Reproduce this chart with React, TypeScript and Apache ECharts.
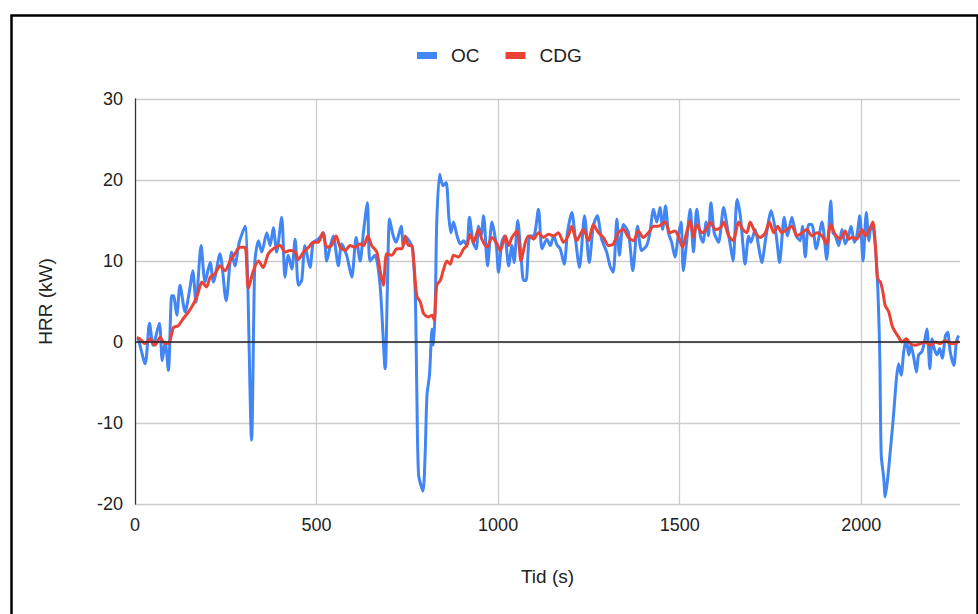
import React, { useEffect, useRef } from "react";
import * as echarts from "echarts";

const seriesNames = ["OC", "CDG"];
const xTicks = [0, 500, 1000, 1500, 2000];
const yTicks = [-20, -10, 0, 10, 20, 30];

const ocTime = [5, 9, 28, 40, 50, 67, 75, 83, 92, 101, 106, 115, 124, 138, 151, 159, 168, 182, 193, 207, 216, 234, 251, 266, 275, 287, 303, 321, 330, 340, 349, 363, 372, 381, 390, 404, 413, 422, 432, 441, 450, 459, 468, 482, 491, 505, 519, 528, 537, 546, 560, 569, 583, 597, 609, 620, 629, 640, 647, 661, 675, 689, 695, 701, 710, 719, 733, 739, 748, 762, 765, 772, 776, 781, 793, 799, 804, 811, 818, 822, 827, 831, 839, 848, 857, 864, 870, 877, 887, 896, 905, 914, 921, 931, 940, 946, 953, 960, 971, 983, 995, 1001, 1010, 1018, 1029, 1038, 1044, 1054, 1063, 1070, 1077, 1087, 1098, 1111, 1121, 1134, 1144, 1153, 1162, 1171, 1182, 1191, 1203, 1212, 1224, 1238, 1251, 1262, 1273, 1285, 1299, 1308, 1317, 1327, 1334, 1345, 1359, 1371, 1384, 1395, 1409, 1418, 1428, 1437, 1446, 1453, 1461, 1469, 1478, 1487, 1496, 1504, 1510, 1519, 1529, 1538, 1547, 1557, 1564, 1573, 1579, 1586, 1595, 1607, 1621, 1632, 1639, 1647, 1658, 1667, 1674, 1680, 1690, 1696, 1708, 1717, 1726, 1738, 1752, 1766, 1775, 1788, 1797, 1809, 1821, 1832, 1838, 1846, 1855, 1864, 1876, 1892, 1905, 1916, 1922, 1929, 1938, 1947, 1956, 1965, 1972, 1981, 1988, 1996, 2005, 2014, 2021, 2027, 2034, 2044, 2051, 2055, 2062, 2066, 2073, 2080, 2089, 2097, 2103, 2110, 2117, 2124, 2131, 2137, 2145, 2152, 2158, 2167, 2174, 2181, 2189, 2195, 2201, 2209, 2216, 2223, 2232, 2238, 2245, 2255, 2262, 2268];
const ocHrr = [0.5, 0.4, -2.7, 2.3, -0.4, 2.3, -2.3, 0, -3.5, 5.7, 5.7, 3.3, 7, 3.7, 6.6, 8.8, 4.9, 11.9, 7.4, 9.8, 7.4, 10.9, 5.1, 11.1, 9.4, 12.3, 14.3, -12.1, 9.8, 12.5, 11.1, 13.5, 11.9, 14.1, 11.1, 15.4, 8, 10.7, 9, 12.7, 7, 7.6, 11.9, 9.2, 12.3, 12.7, 13.5, 10, 11.7, 13.1, 9.4, 12.1, 10.7, 8, 12.9, 10, 13.5, 17.2, 10, 10.7, 7, -3.3, 6.6, 15.2, 13.3, 12.3, 14.3, 11.9, 12.9, 11.9, 11.5, 5.7, -5.7, -16.4, -18.4, -13.9, -6.6, -4.1, 1.6, -0.4, 4.9, 14.8, 20.7, 19.3, 19.7, 15.6, 13.5, 14.8, 13.1, 12.1, 12.5, 11.9, 15.4, 12.3, 11.5, 14.3, 13.1, 15.6, 9.4, 14.8, 11.9, 8.6, 12.3, 13.1, 9.4, 11.9, 9.8, 15, 10.7, 7.6, 7.6, 13.1, 13.1, 16.4, 11.5, 12.7, 11.9, 13.1, 12, 11.5, 9.6, 13.5, 16, 13.1, 9.2, 15.6, 9.8, 14.3, 15.6, 12.7, 11.1, 9.4, 8.6, 15.2, 10.7, 14.5, 13.5, 8.8, 14.3, 11.3, 11.9, 13.5, 16.4, 14.8, 16.6, 13.9, 16.8, 13.5, 12.3, 10.5, 13.1, 14.8, 8.8, 12.3, 16.4, 11.1, 16.4, 13.1, 12.3, 14.8, 13.1, 17.2, 13.5, 12.3, 16.6, 13.9, 12.1, 10, 17.6, 15.6, 12.1, 9.6, 13.1, 12.3, 13.9, 11.9, 9.8, 13.1, 16.2, 13.1, 9.8, 15.4, 13.1, 15.4, 13.1, 12.5, 14.3, 10.5, 14.5, 14.5, 11.5, 14.8, 10.2, 17.4, 13.5, 13.1, 11.9, 13.9, 12.1, 13.1, 14.3, 12.3, 13.1, 15.6, 10, 16, 12.5, 14.1, 13.9, 8.2, -1.6, -13.9, -16.8, -19.1, -16.8, -13.5, -9, -4.5, -2.7, -4.1, -1.2, 0.4, -1.6, -0.4, -2, -3.7, -1.6, -1.2, 0, 1.6, -3.3, 0.4, -0.8, -1.6, -0.8, -2, 0.8, 1.2, -1.2, -2.9, 0, 0.8];

const cdgTime = [5, 9, 28, 41, 55, 69, 78, 92, 106, 119, 133, 147, 161, 174, 184, 197, 207, 220, 234, 248, 262, 275, 289, 303, 312, 326, 340, 353, 367, 381, 400, 413, 427, 441, 450, 464, 478, 491, 505, 517, 528, 541, 554, 565, 579, 592, 606, 620, 630, 641, 652, 666, 675, 684, 693, 707, 721, 735, 744, 753, 762, 767, 776, 786, 795, 808, 818, 824, 831, 841, 850, 859, 868, 877, 891, 905, 914, 923, 932, 946, 955, 969, 983, 997, 1006, 1020, 1029, 1038, 1052, 1063, 1075, 1084, 1098, 1111, 1125, 1139, 1153, 1166, 1180, 1193, 1203, 1216, 1235, 1249, 1262, 1276, 1290, 1304, 1317, 1331, 1345, 1359, 1373, 1386, 1400, 1414, 1428, 1441, 1460, 1473, 1487, 1496, 1508, 1519, 1529, 1538, 1547, 1561, 1573, 1584, 1598, 1612, 1621, 1635, 1648, 1662, 1674, 1685, 1694, 1708, 1722, 1736, 1747, 1759, 1770, 1781, 1795, 1809, 1823, 1837, 1850, 1864, 1878, 1892, 1904, 1916, 1928, 1942, 1956, 1965, 1975, 1988, 2002, 2011, 2021, 2032, 2039, 2044, 2048, 2053, 2060, 2066, 2076, 2085, 2094, 2103, 2112, 2124, 2135, 2149, 2163, 2177, 2190, 2204, 2218, 2232, 2245, 2259, 2268];
const cdgHrr = [0.5, 0.5, -0.2, 0.4, -0.4, 0.6, 0, -0.2, 1.8, 2, 2.9, 3.7, 4.7, 6.1, 7.4, 6.8, 8, 8.4, 9.4, 8.8, 10, 10.9, 11.7, 11.7, 6.6, 8.8, 10, 9.2, 10.9, 11.5, 11.9, 11.1, 11.3, 11.1, 10.2, 11.1, 11.7, 12.3, 12.3, 13.5, 11.7, 11.9, 13.1, 11.7, 11.3, 11.9, 11.7, 12.1, 11.9, 13.1, 11.9, 11.1, 8.8, 7, 10.9, 10.7, 11.5, 11.5, 13.1, 11.9, 11.9, 10.2, 5.7, 4.9, 3.5, 3.1, 3.3, 2.7, 7, 7.6, 9, 10, 9.6, 10.7, 10.5, 11.5, 11.9, 13.3, 12.3, 13.9, 12.7, 11.7, 12.9, 12.1, 11.3, 13.1, 11.9, 12.9, 13.7, 10, 12.3, 13.1, 12.7, 13.5, 12.9, 13.3, 13.1, 13.5, 12.3, 13.1, 14.3, 12.5, 13.9, 12.5, 14.5, 13.5, 12.9, 11.9, 12.1, 13.5, 13.9, 12.9, 12.5, 13.7, 12.9, 13.5, 14.3, 14.3, 14.8, 13.5, 13.7, 13.1, 11.7, 13.5, 15, 12.9, 14.5, 13.5, 13.9, 14.8, 13.9, 14.1, 14.8, 13.1, 12.5, 14.8, 13.9, 13.5, 14.8, 13.5, 12.9, 13.5, 14.8, 13.5, 14.3, 13.5, 13.9, 14.3, 13.1, 13.5, 13.9, 13.1, 13.5, 13.1, 12.1, 14.5, 13.3, 12.7, 13.7, 12.7, 12.9, 12.7, 13.9, 13.1, 13.7, 14.8, 11.9, 8.2, 7.6, 7.4, 6.1, 4.5, 3.7, 2, 1.2, 0.6, 0, 0.4, -0.2, -0.4, -0.2, 0, -0.4, 0, -0.2, 0.2, -0.2, -0.2, 0.2];

const X_MAX = 2272;
const FONT = "Arial, 'Liberation Sans', sans-serif";
const TEXT = "#222222";

export default function App() {
  const ref = useRef<HTMLDivElement>(null);

  useEffect(() => {
    if (!ref.current) return;
    const chart = echarts.init(ref.current, undefined, { renderer: "svg" });
    const ocData = ocTime.map((t, i) => [t, ocHrr[i]]);
    const cdgData = cdgTime.map((t, i) => [t, cdgHrr[i]]);
    chart.setOption({
      animation: false,
      backgroundColor: "#ffffff",
      textStyle: { fontFamily: FONT },
      graphic: [
        {
          type: "rect",
          left: 9,
          top: 13,
          shape: { x: 0, y: 0, width: 966, height: 640 },
          style: { fill: "none", stroke: "#000000", lineWidth: 2.5 },
          silent: true,
          z: 100,
        },
      ],
      legend: {
        data: seriesNames,
        left: 412,
        top: 41,
        itemWidth: 20,
        itemHeight: 7,
        itemGap: 26,
        icon: "rect",
        textStyle: { fontSize: 19, color: TEXT, fontFamily: FONT, padding: [0, 0, 0, 9] },
      },
      grid: { left: 135, right: 18, top: 99, bottom: 110, containLabel: false },
      xAxis: {
        type: "value",
        min: xTicks[0],
        max: X_MAX,
        interval: xTicks[1] - xTicks[0],
        name: "Tid (s)",
        nameLocation: "middle",
        nameGap: 63,
        nameTextStyle: { fontSize: 19, color: TEXT, fontFamily: FONT },
        axisLine: { show: false, onZero: false },
        axisTick: { show: false },
        axisLabel: {
          fontSize: 18,
          color: TEXT,
          margin: 12,
          fontFamily: FONT,
          showMaxLabel: false,
          formatter: (v: number) => (xTicks.includes(v) ? String(v) : ""),
        },
        splitLine: { show: true, showMinLine: false, showMaxLine: false, lineStyle: { color: "#cccccc", width: 1.3 } },
      },
      yAxis: {
        type: "value",
        min: yTicks[0],
        max: yTicks[yTicks.length - 1],
        interval: 10,
        name: "HRR (kW)",
        nameLocation: "middle",
        nameRotate: 90,
        nameGap: 80,
        nameTextStyle: { fontSize: 19, color: TEXT, fontFamily: FONT },
        axisLine: { show: true, onZero: false, lineStyle: { color: "#333333", width: 1.3 } },
        axisTick: { show: false },
        axisLabel: { fontSize: 18, color: TEXT, margin: 12, fontFamily: FONT },
        splitLine: { show: true, lineStyle: { color: "#cccccc", width: 1.3 } },
      },
      series: [
        {
          name: seriesNames[0],
          type: "line",
          data: ocData,
          showSymbol: false,
          smooth: 0.25,
          lineStyle: { color: "#4285F4", width: 3 },
          itemStyle: { color: "#4285F4" },
          markLine: {
            silent: true,
            symbol: "none",
            label: { show: false },
            lineStyle: { color: "#222222", width: 1.5, type: "solid" },
            data: [{ yAxis: 0 }],
          },
        },
        {
          name: seriesNames[1],
          type: "line",
          data: cdgData,
          showSymbol: false,
          smooth: 0.25,
          lineStyle: { color: "#EA4335", width: 3 },
          itemStyle: { color: "#EA4335" },
        },
      ],
    });
    return () => chart.dispose();
  }, []);

  return (
    <div
      ref={ref}
      style={{ position: "fixed", left: 0, top: 0, width: 978, height: 614, background: "#fff" }}
    />
  );
}
